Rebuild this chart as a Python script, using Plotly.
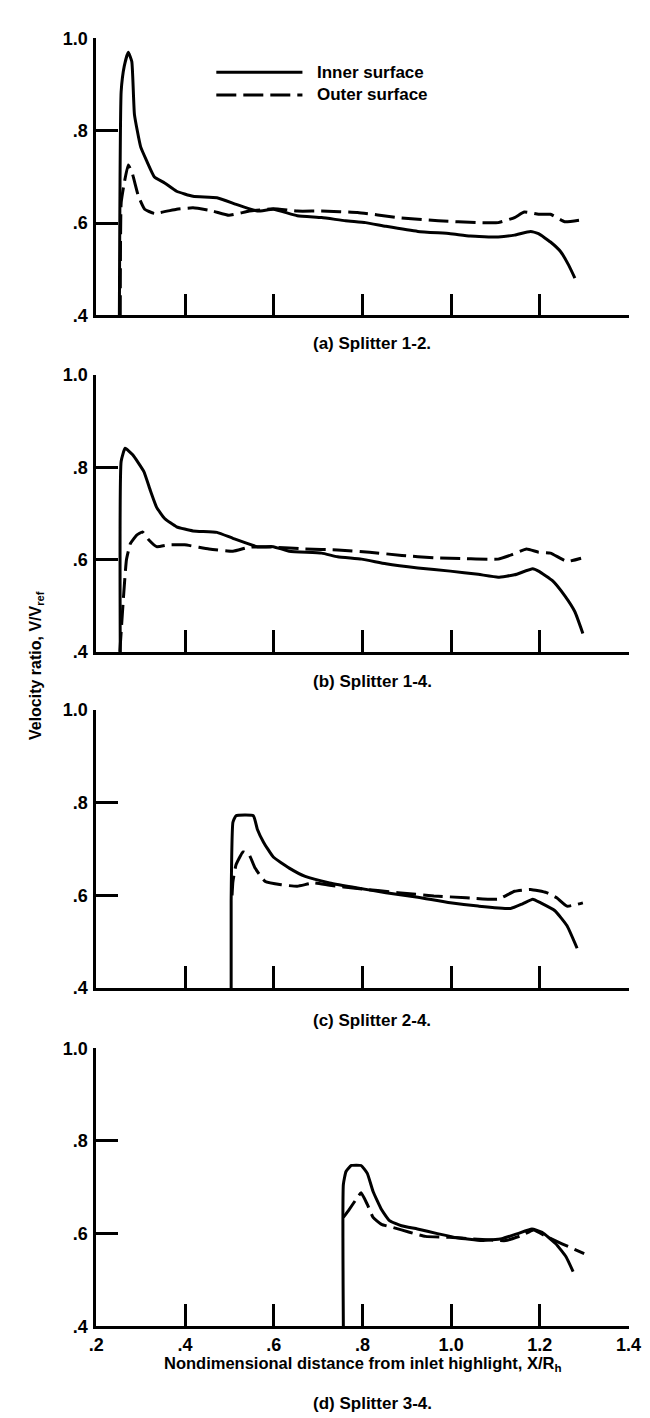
import plotly.graph_objects as go

# ---------------- data ----------------
panel_titles = ["(a) Splitter 1-2.", "(b) Splitter 1-4.", "(c) Splitter 2-4.", "(d) Splitter 3-4."]
series_names = ["Inner surface", "Outer surface"]

a_inner_x = [0.252, 0.256, 0.263, 0.272, 0.280, 0.286, 0.300, 0.313, 0.331, 0.354, 0.381, 0.418, 0.472, 0.517,
             0.563, 0.599, 0.653, 0.708, 0.762, 0.807, 0.853, 0.925, 0.998, 1.043, 1.106, 1.143, 1.179, 1.197,
             1.224, 1.247, 1.265, 1.279]
a_inner_y = [0.400, 0.885, 0.940, 0.970, 0.950, 0.835, 0.765, 0.736, 0.700, 0.687, 0.669, 0.658, 0.655, 0.640,
             0.626, 0.630, 0.616, 0.612, 0.605, 0.601, 0.593, 0.582, 0.577, 0.572, 0.570, 0.574, 0.582, 0.577,
             0.559, 0.538, 0.509, 0.481]
a_outer_x = [0.254, 0.256, 0.263, 0.272, 0.281, 0.295, 0.309, 0.331, 0.381, 0.418, 0.463, 0.499, 0.545, 0.599,
             0.653, 0.708, 0.789, 0.880, 0.971, 1.061, 1.106, 1.143, 1.165, 1.197, 1.224, 1.256, 1.293]
a_outer_y = [0.400, 0.644, 0.687, 0.726, 0.708, 0.658, 0.630, 0.621, 0.630, 0.633, 0.626, 0.617, 0.626, 0.631,
             0.626, 0.626, 0.623, 0.612, 0.605, 0.601, 0.601, 0.612, 0.624, 0.619, 0.619, 0.603, 0.607]

b_inner_x = [0.254, 0.256, 0.265, 0.282, 0.307, 0.322, 0.336, 0.354, 0.381, 0.418, 0.472, 0.508, 0.563, 0.599,
             0.635, 0.708, 0.744, 0.798, 0.853, 0.925, 0.998, 1.061, 1.106, 1.143, 1.184, 1.197, 1.229, 1.256,
             1.279, 1.297]
b_inner_y = [0.400, 0.813, 0.841, 0.827, 0.791, 0.749, 0.713, 0.689, 0.671, 0.662, 0.659, 0.646, 0.628, 0.628,
             0.618, 0.614, 0.606, 0.601, 0.591, 0.582, 0.575, 0.568, 0.562, 0.567, 0.580, 0.575, 0.554, 0.522,
             0.487, 0.440]
b_outer_x = [0.253, 0.262, 0.268, 0.277, 0.291, 0.304, 0.318, 0.336, 0.363, 0.399, 0.454, 0.508, 0.545, 0.599,
             0.671, 0.744, 0.816, 0.889, 0.961, 1.034, 1.106, 1.138, 1.170, 1.197, 1.224, 1.261, 1.293]
b_outer_y = [0.400, 0.529, 0.600, 0.635, 0.653, 0.660, 0.643, 0.628, 0.632, 0.632, 0.623, 0.618, 0.627, 0.627,
             0.623, 0.621, 0.616, 0.609, 0.604, 0.602, 0.601, 0.611, 0.623, 0.616, 0.614, 0.596, 0.603]

c_inner_x = [0.504, 0.504, 0.508, 0.515, 0.554, 0.563, 0.577, 0.599, 0.635, 0.671, 0.726, 0.789, 0.853, 0.925,
             0.998, 1.061, 1.134, 1.161, 1.184, 1.202, 1.234, 1.261, 1.284]
c_inner_y = [0.400, 0.588, 0.758, 0.772, 0.772, 0.743, 0.715, 0.683, 0.659, 0.641, 0.627, 0.616, 0.606, 0.596,
             0.584, 0.577, 0.572, 0.582, 0.592, 0.584, 0.567, 0.535, 0.486]
c_outer_x = [0.506, 0.508, 0.515, 0.531, 0.545, 0.558, 0.581, 0.617, 0.653, 0.690, 0.726, 0.789, 0.880, 0.961,
             1.034, 1.106, 1.143, 1.179, 1.215, 1.238, 1.261, 1.297]
c_outer_y = [0.600, 0.630, 0.666, 0.694, 0.687, 0.659, 0.630, 0.623, 0.620, 0.627, 0.622, 0.615, 0.606, 0.599,
             0.595, 0.592, 0.609, 0.613, 0.606, 0.595, 0.577, 0.584]

d_inner_x = [0.757, 0.757, 0.763, 0.775, 0.797, 0.811, 0.824, 0.843, 0.861, 0.888, 0.924, 0.969, 1.014, 1.069,
             1.114, 1.150, 1.182, 1.205, 1.236, 1.259, 1.275]
d_inner_y = [0.400, 0.706, 0.734, 0.747, 0.747, 0.730, 0.691, 0.652, 0.628, 0.617, 0.610, 0.600, 0.591, 0.585,
             0.589, 0.600, 0.610, 0.603, 0.578, 0.550, 0.518]
d_outer_x = [0.757, 0.770, 0.788, 0.797, 0.811, 0.824, 0.843, 0.870, 0.906, 0.942, 0.996, 1.060, 1.123, 1.159,
             1.186, 1.214, 1.250, 1.300]
d_outer_y = [0.635, 0.652, 0.677, 0.688, 0.663, 0.635, 0.620, 0.613, 0.603, 0.594, 0.592, 0.588, 0.585, 0.596,
             0.608, 0.594, 0.578, 0.557]

x_tickvals = [0.2, 0.4, 0.6, 0.8, 1.0, 1.2, 1.4]
x_ticktext = [".2", ".4", ".6", ".8", "1.0", "1.2", "1.4"]
y_tickvals = [0.4, 0.6, 0.8, 1.0]
y_ticktext = [".4", ".6", ".8", "1.0"]

panels = [
    (a_inner_x, a_inner_y, a_outer_x, a_outer_y),
    (b_inner_x, b_inner_y, b_outer_x, b_outer_y),
    (c_inner_x, c_inner_y, c_outer_x, c_outer_y),
    (d_inner_x, d_inner_y, d_outer_x, d_outer_y),
]

# ---------------- layout geometry ----------------
W, H = 650, 1418
FONT = "Liberation Sans, Arial, sans-serif"
panel_px = [(20.7, 301.7), (362, 643), (702, 984), (1045, 1327)]  # top, bottom (pixels)
title_px = [330, 673, 1017, 1405]
xdom = [83 / W, 633 / W]
LW = 3.0
DASH = "20px,7px"

def py(p):
    return 1 - p / H

fig = go.Figure()
layout = dict(
    width=W, height=H, margin=dict(l=0, r=0, t=0, b=0),
    paper_bgcolor="white", plot_bgcolor="white", showlegend=False,
    font=dict(family=FONT, size=17, color="black", weight="bold"),
)

inner_style = dict(color="black", width=LW, dash="solid")
outer_style = dict(color="black", width=LW, dash=DASH)

for i, (ix, iy, ox, oy) in enumerate(panels):
    n = i + 1
    xa = "x" if n == 1 else f"x{n}"
    ya = "y" if n == 1 else f"y{n}"
    fig.add_trace(go.Scatter(x=ix, y=iy, mode="lines", line=inner_style, line_shape="spline",
                             line_smoothing=0.4, name=series_names[0], xaxis=xa, yaxis=ya, cliponaxis=False))
    fig.add_trace(go.Scatter(x=ox, y=oy, mode="lines", line=outer_style, line_shape="spline",
                             line_smoothing=0.4, name=series_names[1], xaxis=xa, yaxis=ya, cliponaxis=False))
    top, bot = panel_px[i]
    axis_common = dict(showgrid=False, zeroline=False, showline=True, linecolor="black", linewidth=2.7,
                       ticks="inside", ticklen=22, tickwidth=2.7, tickcolor="black")
    layout["xaxis" if n == 1 else f"xaxis{n}"] = dict(
        domain=xdom, range=[0.2, 1.4], anchor=ya, tickmode="array",
        tickvals=x_tickvals, ticktext=x_ticktext, showticklabels=(n == 4), ticklabelstandoff=0,
        tickfont=dict(size=18, family=FONT, weight="bold"), **axis_common)
    layout["yaxis" if n == 1 else f"yaxis{n}"] = dict(
        domain=[py(bot), py(top)], range=[0.4, 1.0], anchor=xa, tickmode="array",
        tickvals=y_tickvals, ticktext=y_ticktext, ticklabelstandoff=2,
        tickfont=dict(size=18, family=FONT, weight="bold"), **axis_common)

annotations = []
for i, t in enumerate(panel_titles):
    annotations.append(dict(text=t, x=368 / W, y=py(title_px[i]), xref="paper", yref="paper",
                            showarrow=False, xanchor="center", yanchor="middle",
                            font=dict(size=17, family=FONT, weight="bold")))
annotations.append(dict(text="Nondimensional distance from inlet highlight, X/R<sub>h</sub>",
                        x=359 / W, y=py(1353), xref="paper", yref="paper", showarrow=False,
                        xanchor="center", yanchor="top", font=dict(size=16.5, family=FONT, weight="bold")))
annotations.append(dict(text="Velocity ratio, V/V<sub>ref</sub>", x=21 / W, y=py(657), xref="paper",
                        yref="paper", showarrow=False, textangle=-90, xanchor="center", yanchor="middle",
                        font=dict(size=16, family=FONT, weight="bold")))
# legend text
for j, (name, ypx) in enumerate(zip(series_names, [55, 78])):
    annotations.append(dict(text=name, x=309 / W, y=py(ypx), xref="paper", yref="paper", showarrow=False,
                            xanchor="left", yanchor="middle", font=dict(size=17, family=FONT, weight="bold")))
layout["annotations"] = annotations

# legend samples (decoration)
layout["shapes"] = [
    dict(type="line", xref="paper", yref="paper", x0=207 / W, x1=296 / W, y0=py(55), y1=py(55),
         line=dict(color="black", width=LW, dash="solid")),
    dict(type="line", xref="paper", yref="paper", x0=207 / W, x1=296 / W, y0=py(78), y1=py(78),
         line=dict(color="black", width=LW, dash=DASH)),
]

fig.update_layout(**layout)
fig.write_html("out.html")
